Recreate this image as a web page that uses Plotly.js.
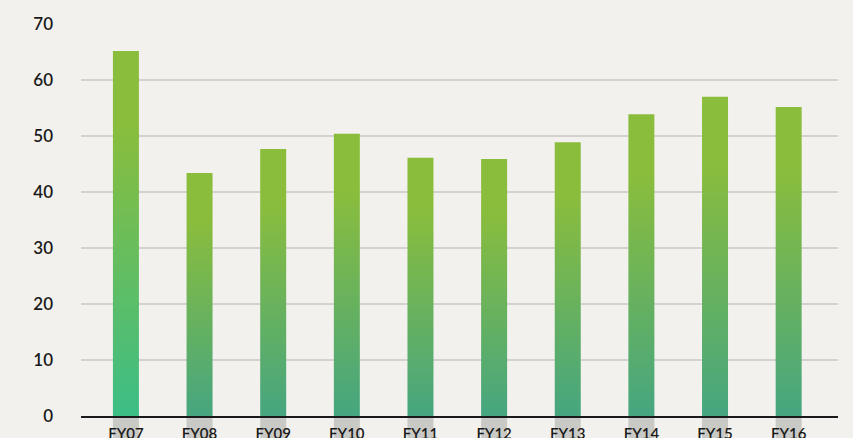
<!DOCTYPE html>
<html>
<head>
<meta charset="utf-8">
<script src="https://cdn.plot.ly/plotly-3.0.1.min.js"></script>
<style>
  html, body { margin: 0; padding: 0; background: #f2f1ed; }
  #chart { width: 853px; height: 438px; }
</style>
</head>
<body>
<div id="chart"></div>
<script>
// ---- data ----
const categories = ["FY07", "FY08", "FY09", "FY10", "FY11", "FY12", "FY13", "FY14", "FY15", "FY16"];
const values = [65.2, 43.4, 47.7, 50.4, 46.1, 45.9, 48.9, 53.9, 57.0, 55.2];
const yTicks = [0, 10, 20, 30, 40, 50, 60, 70];

// ---- style ----
const BAR_WIDTH = 0.353;
const TOP_COLOR = "#8abd3c";
const BOTTOM_COLOR_FIRST = "#3cbe86";
const BOTTOM_COLOR = "#46a680";
const FONT = "Lato, 'Open Sans', 'DejaVu Sans', sans-serif";

const shapes = categories.map((c, i) => ({
  type: "rect", layer: "below",
  xref: "x", yref: "paper",
  x0: i - BAR_WIDTH / 2, x1: i + BAR_WIDTH / 2,
  y0: 0, y1: -0.08,
  fillcolor: "#c9c9c5", line: { width: 0 }
}));

const trace = {
  type: "bar",
  x: categories.map((c, i) => i),
  y: values,
  width: BAR_WIDTH,
  marker: { color: TOP_COLOR, line: { width: 0 } },
  hoverinfo: "none"
};

const layout = {
  width: 853, height: 438,
  margin: { l: 81, r: 15, t: 24, b: 22 },
  paper_bgcolor: "#f2f1ed",
  plot_bgcolor: "#f2f1ed",
  showlegend: false,
  font: { family: FONT, color: "#1a1a1a" },
  xaxis: {
    range: [-0.61, 9.67],
    tickmode: "array",
    tickvals: categories.map((c, i) => i),
    ticktext: categories,
    showgrid: false,
    zeroline: false,
    showline: true, linecolor: "#1a1a1a", linewidth: 1.5,
    ticks: "",
    ticklabelstandoff: 3,
    tickfont: { size: 15, family: FONT, color: "#1a1a1a", weight: 600 },
    fixedrange: true
  },
  yaxis: {
    range: [0, 70],
    tickmode: "array",
    tickvals: yTicks,
    ticktext: yTicks.map(String),
    showgrid: true, gridcolor: "#d3d2cf", gridwidth: 1.5,
    zeroline: false,
    showline: false,
    ticks: "",
    ticklabelstandoff: 27,
    tickfont: { size: 17, family: FONT, color: "#1a1a1a", weight: 600 },
    fixedrange: true
  },
  shapes: shapes
};

Plotly.newPlot("chart", [trace], layout, { staticPlot: true, displayModeBar: false }).then(gd => {
  const svgNS = "http://www.w3.org/2000/svg";
  const defs = gd.querySelector(".main-svg defs");
  const paths = gd.querySelectorAll(".barlayer .trace .point path");
  paths.forEach((p, i) => {
    const g = document.createElementNS(svgNS, "linearGradient");
    g.setAttribute("id", "barGrad" + i);
    g.setAttribute("x1", "0"); g.setAttribute("y1", "0");
    g.setAttribute("x2", "0"); g.setAttribute("y2", "1");
    const stops = [[0, TOP_COLOR], [0.2, TOP_COLOR], [1, i === 0 ? BOTTOM_COLOR_FIRST : BOTTOM_COLOR]];
    stops.forEach(([o, c]) => {
      const s = document.createElementNS(svgNS, "stop");
      s.setAttribute("offset", o);
      s.setAttribute("stop-color", c);
      g.appendChild(s);
    });
    defs.appendChild(g);
    p.style.fill = "url(#barGrad" + i + ")";
  });
});
</script>
</body>
</html>
